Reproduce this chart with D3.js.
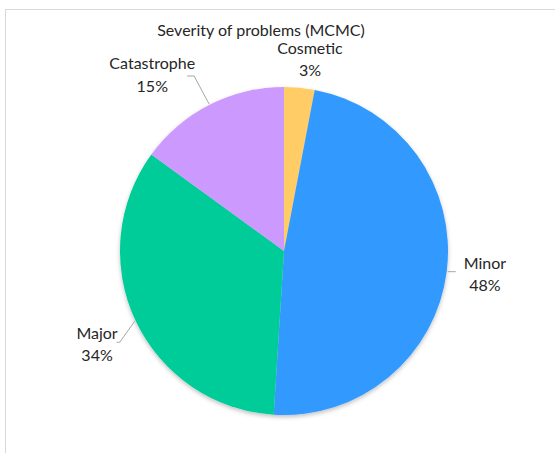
<!DOCTYPE html>
<meta charset="utf-8">
<style>
body { margin: 0; background: #fff; }
text { font-family: Lato, "Open Sans", sans-serif; fill: #262626; }
</style>
<svg width="555" height="453"></svg>
<script src="https://d3js.org/d3.v7.min.js"></script>
<script>

var categories = ["Cosmetic", "Minor", "Major", "Catastrophe"],
    shares = [3, 48, 34, 15],
    colors = ["#FFCC66", "#3399FF", "#00CC99", "#CC99FF"];

var svg = d3.select("svg"),
    cx = 284, cy = 251, radius = 164;

// chart area frame (runs off the picture on right and bottom)
svg.append("rect")
    .attr("x", 5.5).attr("y", 9.5)
    .attr("width", 600).attr("height", 500)
    .attr("fill", "#fff")
    .attr("stroke", "#D9D9D9");

var defs = svg.append("defs");
var f = defs.append("filter").attr("id", "shadow")
    .attr("x", "-10%").attr("y", "-10%").attr("width", "120%").attr("height", "120%");
f.append("feDropShadow")
    .attr("dx", 0).attr("dy", 2).attr("stdDeviation", 2)
    .attr("flood-color", "#000").attr("flood-opacity", 0.25);

svg.append("text")
    .attr("x", 261).attr("y", 36)
    .attr("text-anchor", "middle")
    .style("font-size", "16px")
    .text("Severity of problems (MCMC)");

var data = categories.map(function(c, i) { return {name: c, value: shares[i], color: colors[i]}; });

var pie = d3.pie().sort(null).value(function(d) { return d.value; });
var arc = d3.arc().innerRadius(0).outerRadius(radius);
var arcs = pie(data);

var g = svg.append("g").attr("transform", "translate(" + cx + "," + cy + ")");

g.append("g").attr("filter", "url(#shadow)")
  .selectAll("path")
  .data(arcs)
  .enter().append("path")
    .attr("d", arc)
    .attr("fill", function(d) { return d.data.color; });

// label placement: distance from centre and angle nudge (degrees) per slice
var labelLayout = {
  Cosmetic:    {r: 196, da: 2.2,  leader: null},
  Minor:       {r: 202, da: -1.2, leader: [[0, 0], [8, 0]]},
  Major:       {r: 208, da: -0.8, leader: [[-15, 21], [-18, 21]]},
  Catastrophe: {r: 222, da: -9.4, leader: [[-15, -28], [-22, -28]]}
};

function polar(r, a) { return [r * Math.sin(a), -r * Math.cos(a)]; }

arcs.forEach(function(d) {
  var lay = labelLayout[d.data.name],
      mid = (d.startAngle + d.endAngle) / 2,
      p = polar(lay.r, mid + lay.da * Math.PI / 180);

  if (lay.leader) {
    var e = polar(radius + 1, mid);
    var pts = [e].concat(lay.leader.map(function(o) { return [e[0] + o[0], e[1] + o[1]]; }));
    g.append("path")
        .attr("d", d3.line()(pts))
        .attr("fill", "none")
        .attr("stroke", "#A6A6A6")
        .attr("stroke-width", 1);
  }

  var t = g.append("text")
      .attr("text-anchor", "middle")
      .style("font-size", "16px")
      .attr("transform", "translate(" + p[0] + "," + p[1] + ")");
  t.append("tspan").attr("x", 0).attr("dy", "-0.2em").text(d.data.name);
  t.append("tspan").attr("x", 0).attr("dy", "1.4em").text(d.data.value + "%");
});

</script>
